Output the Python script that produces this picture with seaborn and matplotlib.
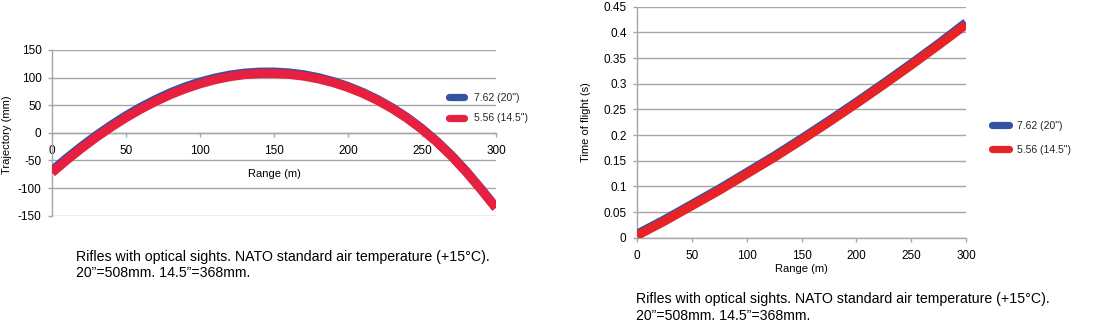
import matplotlib
matplotlib.use("Agg")
import matplotlib.pyplot as plt
import pandas as pd
import seaborn as sns

# ---------------- data ----------------
series_labels = ['7.62 (20")', '5.56 (14.5")']

traj_range = [0, 10, 20, 30, 40, 50, 60, 70, 80, 90, 100, 110, 120, 130, 140, 150,
              160, 170, 180, 190, 200, 210, 220, 230, 240, 250, 260, 270, 280, 290, 300]
traj_762 = [-68.5, -46, -24.7, -4.8, 13.7, 30.8, 46.3, 60.1, 72.5, 83, 91.9, 99, 104.4, 108,
            109.8, 110, 108.4, 105.1, 99.9, 92.8, 83.9, 73, 60.1, 45, 27.5, 7.4, -15.4,
            -41.2, -70, -101.8, -135.2]
traj_556 = [-72, -49.3, -27.9, -8, 10.5, 27.5, 43, 56.8, 69.2, 79.8, 88.8, 96.1, 101.6, 105.4,
            107.3, 107.5, 106, 102.8, 97.8, 91, 82.3, 71.6, 58.8, 43.8, 26.4, 6.4, -16.4,
            -42.2, -71, -102.8, -136]

tof_range = [0, 25, 50, 75, 100, 125, 150, 175, 200, 225, 250, 275, 300]
tof_762 = [0.007, 0.035, 0.065, 0.095, 0.127, 0.159, 0.193, 0.228, 0.264, 0.301, 0.339, 0.378, 0.419]
tof_556 = [0.004, 0.032, 0.062, 0.092, 0.124, 0.156, 0.190, 0.225, 0.261, 0.298, 0.336, 0.375, 0.415]

x_ticks = [0, 50, 100, 150, 200, 250, 300]
x_tick_labels = ["0", "50", "100", "150", "200", "250", "300"]
traj_ticks = [-150, -100, -50, 0, 50, 100, 150]
traj_tick_labels = ["-150", "-100", "-50", "0", "50", "100", "150"]
tof_ticks = [0, 0.05, 0.1, 0.15, 0.2, 0.25, 0.3, 0.35, 0.4, 0.45]
tof_tick_labels = ["0", "0.05", "0.1", "0.15", "0.2", "0.25", "0.3", "0.35", "0.4", "0.45"]

x_label = "Range (m)"
traj_label = "Trajectory (mm)"
tof_label = "Time of flight (s)"
caption_lines = ["Rifles with optical sights. NATO standard air temperature (+15°C).",
                 "20”=508mm. 14.5”=368mm."]

# ---------------- style ----------------
sns.set_theme(style="white")
plt.rcParams["font.family"] = ["Liberation Sans", "DejaVu Sans"]
plt.rcParams["axes.unicode_minus"] = False

BLUE = "#3352a3"
RED_L = "#e8203f"
RED_R = "#e82326"
GRID = "#a6a6a6"

fig = plt.figure(figsize=(11.2, 3.28), dpi=100)
ax1 = fig.add_axes([0.0464, 0.3424, 0.3964, 0.5052])
ax2 = fig.add_axes([0.56875, 0.2753, 0.29375, 0.7043])


def long_df(xs, a, b):
    return pd.DataFrame({
        "Range": list(xs) * 2,
        "Value": list(a) + list(b),
        "Series": [series_labels[0]] * len(xs) + [series_labels[1]] * len(xs),
    })


df1 = long_df(traj_range, traj_762, traj_556)
df2 = long_df(tof_range, tof_762, tof_556)

sns.lineplot(data=df1, x="Range", y="Value", hue="Series", hue_order=series_labels,
             palette=[BLUE, RED_L], linewidth=6.6, ax=ax1, legend=False,
             estimator=None, solid_capstyle="butt", solid_joinstyle="round", zorder=3)
sns.lineplot(data=df2, x="Range", y="Value", hue="Series", hue_order=series_labels,
             palette=[BLUE, RED_R], linewidth=6.4, ax=ax2, legend=False,
             estimator=None, solid_capstyle="butt", solid_joinstyle="round", zorder=3)


def style_axes(ax, yticks, ylabels):
    ax.set_xlim(0, 300)
    ax.set_ylim(yticks[0], yticks[-1])
    ax.set_xticks(x_ticks)
    ax.set_xticklabels(x_tick_labels)
    ax.set_yticks(yticks)
    ax.set_yticklabels(ylabels)
    ax.yaxis.grid(True, color=GRID, linewidth=1.0)
    ax.xaxis.grid(False)
    ax.set_axisbelow(True)
    for s in ["top", "right"]:
        ax.spines[s].set_visible(False)
    for s in ["left", "bottom"]:
        ax.spines[s].set_color(GRID)
        ax.spines[s].set_linewidth(1.0)
    ax.tick_params(axis="both", which="major", bottom=True, left=True, direction="out",
                   length=3, width=1, color=GRID, labelsize=8.5, labelcolor="black")
    ax.tick_params(axis="x", pad=5.5)
    ax.tick_params(axis="y", pad=4.5)


style_axes(ax1, traj_ticks, traj_tick_labels)
style_axes(ax2, tof_ticks, tof_tick_labels)

ax1.spines["bottom"].set_position(("data", 0))

ax1.set_xlabel(x_label, fontsize=8, color="black")
ax1.set_ylabel(traj_label, fontsize=8, color="black")
ax1.xaxis.set_label_coords(0.5, 0.28)
ax1.yaxis.set_label_coords(-0.089, 0.49)

ax2.set_xlabel(x_label, fontsize=8, color="black")
ax2.set_ylabel(tof_label, fontsize=8, color="black")
ax2.xaxis.set_label_coords(0.5, -0.115)
ax2.yaxis.set_label_coords(-0.14, 0.5)


def add_legend(ax, anchor, hlen, tpad, lspace):
    lines = ax.get_lines()[:2]
    leg = ax.legend(lines, series_labels, loc="center left", bbox_to_anchor=anchor,
                    bbox_transform=fig.transFigure, frameon=False, fontsize=7.5,
                    borderpad=0, borderaxespad=0, handlelength=hlen,
                    handletextpad=tpad, labelspacing=lspace)
    for h in leg.get_lines():
        h.set_linewidth(5.2)
        h.set_solid_capstyle("round")
    return leg


add_legend(ax1, (0.4013, 0.6707), 1.44, 0.9, 1.02)
add_legend(ax2, (0.8853, 0.5793), 1.63, 0.85, 1.35)

fig.text(76 / 1120, 1 - 257.3 / 328, caption_lines[0], fontsize=10.2, va="center", ha="left", color="black")
fig.text(76 / 1120, 1 - 273.3 / 328, caption_lines[1], fontsize=10.2, va="center", ha="left", color="black")
fig.text(636 / 1120, 1 - 299 / 328, caption_lines[0], fontsize=10.2, va="center", ha="left", color="black")
fig.text(636 / 1120, 1 - 315.5 / 328, caption_lines[1], fontsize=10.2, va="center", ha="left", color="black")

fig.savefig("out.png", dpi=100, facecolor="white")
